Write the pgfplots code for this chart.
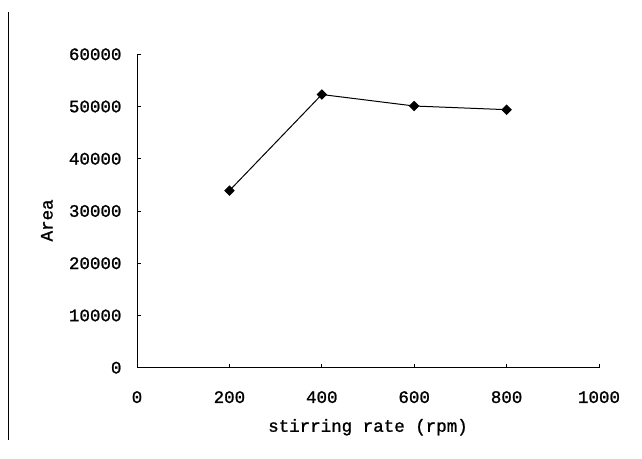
\documentclass[border=0pt]{standalone}
\usepackage{pgfplots}
\pgfplotsset{compat=1.18}
\usepackage{fontspec}
\setmainfont{Liberation Mono}
\newfontfamily\reffont[FakeBold=1.2]{Liberation Mono}
\begin{document}
\begin{tikzpicture}[x=1pt,y=1pt]
\path[use as bounding box] (0,0) rectangle (642,458);
\draw[line width=0.8pt] (8.3,446.3) -- (8.3,18);
\begin{axis}[
  at={(137pt,90.3pt)}, anchor=south west,
  scale only axis, width=462pt, height=313.4pt,
  xmin=0, xmax=1000, ymin=0, ymax=60000,
  axis x line*=bottom, axis y line*=left,
  axis line style={line width=1pt, -},
  xtick={0,200,...,1000}, ytick={0,10000,...,60000},
  tick align=inside, major tick length=4pt,
  tick style={line width=0.8pt, black},
  /pgf/number format/assume math mode=true,
  scaled y ticks=false,
  yticklabel={\pgfmathprintnumber[fixed,1000 sep={}]{\tick}},
  xticklabel={\pgfmathprintnumber[fixed,1000 sep={}]{\tick}},
  ticklabel style={font=\reffont\fontsize{17.5}{19}\selectfont},
  yticklabel style={xshift=-12pt},
  xticklabel style={yshift=-20pt},
  xlabel={stirring rate (rpm)},
  ylabel={Area},
  label style={font=\reffont\fontsize{17.5}{19}\selectfont},
  xlabel style={at={(axis description cs:0.5,-0.19)}, anchor=center},
  ylabel style={at={(axis description cs:-0.195,0.47)}, anchor=center},
  clip=false,
]
\addplot[black, line width=1pt, mark=square*, mark size=3.2pt, mark options={solid, fill=black, rotate=45}]
coordinates {(200,33900) (400,52300) (600,50100) (800,49400)};
\end{axis}
\end{tikzpicture}
\end{document}
